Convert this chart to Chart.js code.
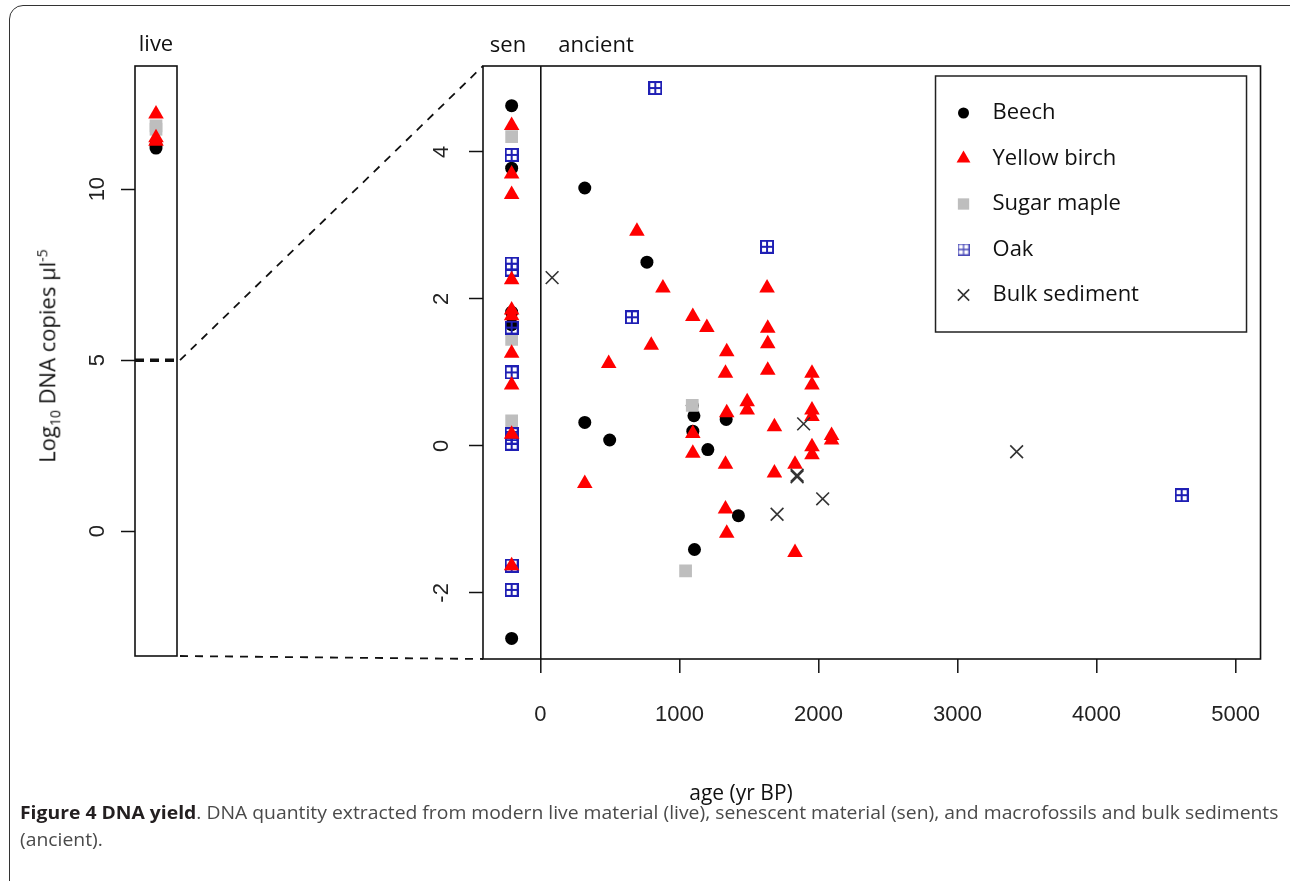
<!DOCTYPE html>
<html>
<head>
<meta charset="utf-8">
<script src="https://cdn.jsdelivr.net/npm/chart.js@4.4.1/dist/chart.umd.min.js"></script>
<style>
html, body { margin: 0; padding: 0; background: #fff; }
#page { position: relative; width: 1290px; height: 881px; overflow: hidden; background: #fff; font-family: "Open Sans", sans-serif; color: #111; }
canvas { position: absolute; left: 0; top: 0; }
.frame { position: absolute; left: 9px; top: 5px; width: 1330px; height: 930px; border: 1.5px solid #333; border-radius: 14px; box-sizing: border-box; }
.lbl { position: absolute; font-size: 22px; white-space: nowrap; transform: translate(-50%, -50%); }
.ytitle { position: absolute; left: 48px; top: 356px; font-size: 22px; white-space: nowrap; transform: translate(-50%, -50%) rotate(-90deg); }
.ytitle sub, .ytitle sup { font-size: 14px; }
.cap { position: absolute; left: 20px; font-size: 18px; line-height: 27px; white-space: nowrap; color: #4a4a4a; transform-origin: 0 50%; }
.cap b { color: #231f20; }
</style>
</head>
<body>
<div id="page">
  <div class="frame"></div>
  <canvas id="main" width="1290" height="881"></canvas>
  <canvas id="live" width="1290" height="881"></canvas>
  <div class="lbl" style="left:156px; top:42px;">live</div>
  <div class="lbl" style="left:508px; top:43px;">sen</div>
  <div class="lbl" style="left:596px; top:43px;">ancient</div>
  <div class="lbl" style="left:741px; top:792px; font-size:21px;">age (yr BP)</div>
  <div class="ytitle">Log<sub>10</sub> DNA copies µl<sup>-5</sup></div>
  <div id="cap1" class="cap" style="top:799px;"><b>Figure 4 DNA yield</b>. DNA quantity extracted from modern live material (live), senescent material (sen), and macrofossils and bulk sediments</div>
  <div id="cap2" class="cap" style="top:826px;">(ancient).</div>
</div>
<script>
// Données
const LIVE_BEECH = [11.3, 11.2];
const LIVE_BIRCH = [12.2, 11.5, 11.4];
const LIVE_MAPLE = [11.85, 11.75];

const SEN_AGE = -207; // colonne "sen"

const BEECH_SEN = [4.63, 3.78, 1.82, 1.65, -2.62];
const BEECH_AGE = [319, 766, 319, 498, 1092, 1104, 1096, 1204, 1336, 1424, 1108];
const BEECH_DNA = [3.51, 2.50, 0.32, 0.08, 0.55, 0.41, 0.20, -0.05, 0.36, -0.95, -1.41];

const BIRCH_SEN = [4.36, 3.70, 3.42, 2.26, 1.85, 1.77, 1.26, 0.83, 0.16, -1.63];
const BIRCH_AGE = [319, 491, 694, 797, 881, 1096, 1096, 1096, 1197, 1331, 1340, 1340, 1331, 1331, 1340,
                   1487, 1487, 1630, 1635, 1635, 1635, 1683, 1683, 1831, 1831,
                   1953, 1953, 1953, 1953, 1953, 1953, 2094, 2094];
const BIRCH_DNA = [-0.51, 1.12, 2.92, 1.37, 2.15, 1.76, 0.17, -0.10, 1.61, 0.99, 1.28, 0.45, -0.25, -0.86, -1.19,
                   0.60, 0.49, 2.15, 1.60, 1.39, 1.03, 0.26, -0.37, -0.25, -1.45,
                   0.99, 0.83, 0.49, 0.40, -0.01, -0.12, 0.14, 0.08];

const MAPLE_SEN = [4.21, 1.45, 0.34];
const MAPLE_AGE = [1092, 1044];
const MAPLE_DNA = [0.55, -1.70];

const OAK_SEN = [3.96, 2.48, 2.40, 1.61, 1.00, 0.16, 0.11, 0.03, -1.63, -1.96];
const OAK_AGE = [826, 1630, 658, 4612];
const OAK_DNA = [4.87, 2.71, 1.75, -0.67];

const BULK_AGE = [84, 1893, 1846, 1846, 2030, 1702, 3425];
const BULK_DNA = [2.29, 0.30, -0.42, -0.40, -0.72, -0.93, -0.08];

const X_TICKS = [0, 1000, 2000, 3000, 4000, 5000];
const Y_TICKS = [-2, 0, 2, 4];
const LIVE_TICKS = [0, 5, 10];
const ZOOM_TOP = 5; // niveau du panneau "live" relié au panneau principal

// Symbole "Oak" (carré avec croix, pch 12 de R)
function oakGlyph(size, color, lw) {
    const c = document.createElement('canvas');
    c.width = c.height = size;
    const g = c.getContext('2d');
    g.strokeStyle = color;
    g.lineWidth = lw;
    const h = lw / 2;
    g.strokeRect(h, h, size - lw, size - lw);
    g.beginPath();
    g.moveTo(size / 2, 0); g.lineTo(size / 2, size);
    g.moveTo(0, size / 2); g.lineTo(size, size / 2);
    g.stroke();
    return c;
}

const pts = (ages, vals) => ages.map((a, i) => ({ x: a, y: vals[i] }));
const sen = vals => vals.map(v => ({ x: SEN_AGE, y: v }));
const live = vals => vals.map(v => ({ x: 0, y: v }));

const STYLES = {
    beech: { pointStyle: 'circle', pointRadius: 6.5, backgroundColor: '#000', borderColor: '#000', borderWidth: 0, legendRadius: 5.5, order: 5 },
    birch: { pointStyle: 'triangle', pointRadius: 9, backgroundColor: '#f00', borderColor: '#f00', borderWidth: 0, legendRadius: 8, order: 1 },
    maple: { pointStyle: 'rect', pointRadius: 9, backgroundColor: '#bebebe', borderColor: '#bebebe', borderWidth: 0, legendRadius: 8, order: 3 },
    oak:   { pointStyle: oakGlyph(14, '#1f1fb4', 2), pointRadius: 7, backgroundColor: '#1f1fb4', borderColor: '#1f1fb4', borderWidth: 0,
             legendStyle: oakGlyph(12, '#4a4ab8', 1.3), legendRadius: 6, order: 2 },
    bulk:  { pointStyle: 'crossRot', pointRadius: 9, backgroundColor: '#333', borderColor: '#333', borderWidth: 1.6, legendRadius: 8, order: 0 }
};

// Cadre noir autour de la zone de tracé
const boxFrame = {
    id: 'boxFrame',
    afterDraw(chart) {
        const { ctx, chartArea: ca } = chart;
        ctx.save();
        ctx.strokeStyle = '#111';
        ctx.lineWidth = 1.6;
        ctx.strokeRect(ca.left, ca.top, ca.right - ca.left, ca.bottom - ca.top);
        ctx.restore();
    }
};

const TICK_FONT = { family: '"Liberation Sans", Arial, sans-serif', size: 22 };

function yAxis(min, max, tickList, width, pad) {
    return {
        min: min, max: max,
        afterFit: s => { s.width = width; },
        afterBuildTicks: s => { s.ticks = tickList.map(v => ({ value: v })); },
        border: { display: false },
        grid: { drawOnChartArea: false, tickLength: 14, tickColor: '#111', tickWidth: 1.5 },
        ticks: { minRotation: 90, maxRotation: 90, crossAlign: 'center', padding: pad, color: '#222',
                 font: TICK_FONT, callback: v => String(v) }
    };
}

// Panneau "live"
const liveChart = new Chart(document.getElementById('live'), {
    type: 'scatter',
    data: {
        datasets: [
            { label: 'Beech', data: live(LIVE_BEECH), ...STYLES.beech },
            { label: 'Yellow birch', data: live(LIVE_BIRCH), ...STYLES.birch },
            { label: 'Sugar maple', data: live(LIVE_MAPLE), ...STYLES.maple }
        ]
    },
    options: {
        responsive: false,
        animation: false,
        layout: { padding: { left: 75, top: 66, right: 1113, bottom: 225 } },
        plugins: { legend: { display: false }, tooltip: { enabled: false } },
        scales: {
            x: { display: false, min: -1, max: 1 },
            y: yAxis(-3.65, 13.6, LIVE_TICKS, 60, 11)
        }
    },
    plugins: [boxFrame]
});

// Légende dessinée dans la zone de tracé
const legendBox = {
    id: 'legendBox',
    afterDraw(chart) {
        const { ctx, chartArea: ca } = chart;
        const w = 311, h = 256;
        const x0 = ca.right - 14 - w, y0 = ca.top + 10;
        ctx.save();
        ctx.strokeStyle = '#222';
        ctx.lineWidth = 1.5;
        ctx.strokeRect(x0, y0, w, h);
        chart.data.datasets.forEach((ds, i) => {
            const y = y0 + 37 + i * 45.5;
            ctx.fillStyle = ds.backgroundColor;
            ctx.strokeStyle = ds.borderColor;
            ctx.lineWidth = ds.borderWidth || 1;
            Chart.helpers.drawPoint(ctx, {
                pointStyle: ds.legendStyle || ds.pointStyle,
                radius: ds.legendRadius,
                borderWidth: ds.borderWidth,
                rotation: 0
            }, x0 + 28, y);
            ctx.fillStyle = '#111';
            ctx.font = '22px "Open Sans", sans-serif';
            ctx.textBaseline = 'middle';
            ctx.textAlign = 'left';
            ctx.fillText(ds.label, x0 + 57, y);
        });
        ctx.restore();
    }
};

// Pointillés reliant le panneau "live" au panneau principal
const zoomLines = {
    id: 'zoomLines',
    afterDraw(chart) {
        const { ctx, chartArea: ca } = chart;
        const la = liveChart.chartArea;
        const y5 = liveChart.scales.y.getPixelForValue(ZOOM_TOP);
        ctx.save();
        ctx.strokeStyle = '#111';
        ctx.setLineDash([9, 6]);
        ctx.lineWidth = 3.5;
        ctx.beginPath();
        ctx.moveTo(la.left, y5); ctx.lineTo(la.right + 3, y5);
        ctx.stroke();
        ctx.setLineDash([8, 7]);
        ctx.lineWidth = 1.8;
        ctx.beginPath();
        ctx.moveTo(la.right + 3, y5); ctx.lineTo(ca.left, ca.top);
        ctx.moveTo(la.right + 3, la.bottom); ctx.lineTo(ca.left, ca.bottom);
        ctx.stroke();
        ctx.restore();
    }
};

new Chart(document.getElementById('main'), {
    type: 'scatter',
    data: {
        datasets: [
            { label: 'Beech', data: sen(BEECH_SEN).concat(pts(BEECH_AGE, BEECH_DNA)), ...STYLES.beech },
            { label: 'Yellow birch', data: sen(BIRCH_SEN).concat(pts(BIRCH_AGE, BIRCH_DNA)), ...STYLES.birch },
            { label: 'Sugar maple', data: sen(MAPLE_SEN).concat(pts(MAPLE_AGE, MAPLE_DNA)), ...STYLES.maple },
            { label: 'Oak', data: sen(OAK_SEN).concat(pts(OAK_AGE, OAK_DNA)), ...STYLES.oak },
            { label: 'Bulk sediment', data: pts(BULK_AGE, BULK_DNA), ...STYLES.bulk }
        ]
    },
    options: {
        responsive: false,
        animation: false,
        layout: { padding: { left: 423, top: 66, right: 28, bottom: 122 } },
        plugins: { legend: { display: false }, tooltip: { enabled: false } },
        scales: {
            x: {
                min: -413, max: 5179,
                afterFit: s => { s.height = 100; },
                afterBuildTicks: s => { s.ticks = X_TICKS.map(v => ({ value: v })); },
                border: { display: false },
                grid: {
                    drawOnChartArea: true,
                    color: c => (c.tick && c.tick.value === 0) ? '#111' : 'rgba(0,0,0,0)',
                    lineWidth: 1.6,
                    tickLength: 14, tickColor: '#111', tickWidth: 1.5
                },
                ticks: { padding: 29, color: '#222', font: TICK_FONT, callback: v => String(v) }
            },
            y: yAxis(-2.90, 5.17, Y_TICKS, 60, 17)
        }
    },
    plugins: [boxFrame, legendBox, zoomLines]
});

// Légende de figure : ajustée à la largeur
const cap1 = document.getElementById('cap1');
const cap2 = document.getElementById('cap2');
const k = 1258 / cap1.scrollWidth;
cap1.style.transform = 'scaleX(' + k + ')';
cap2.style.transform = 'scaleX(' + k + ')';
</script>
</body>
</html>
